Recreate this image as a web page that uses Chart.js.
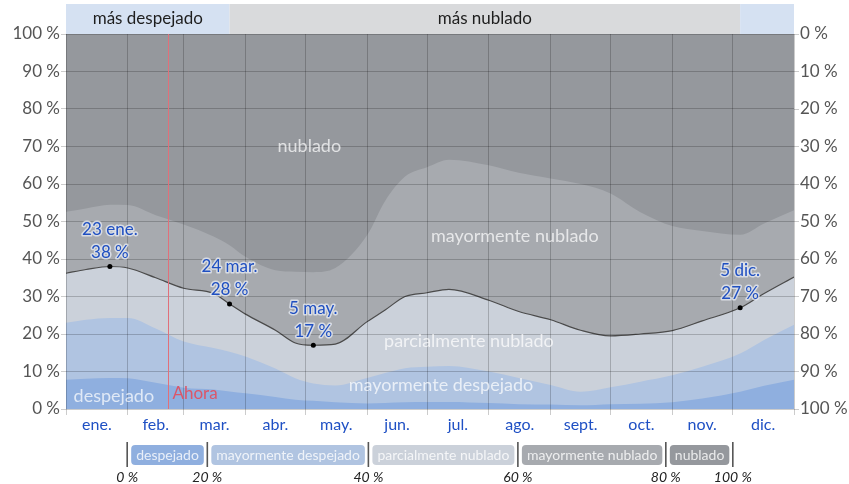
<!DOCTYPE html>
<html lang="es">
<head>
<meta charset="utf-8">
<title>Nubosidad</title>
<script src="https://cdn.jsdelivr.net/npm/chart.js@4.4.1/dist/chart.umd.min.js"></script>
<style>
  html, body { margin: 0; padding: 0; background: #fff; }
  #wrap { width: 849px; height: 484px; position: relative; }
</style>
</head>
<body>
<div id="wrap"><canvas id="cloudChart"></canvas></div>
<script>
// day of year (0 = 1 ene.) and the upper edge of each cloud-cover band, in %
const days = [0, 10, 22, 31, 45, 59, 74, 82, 90, 105, 115, 124, 135, 151, 160, 170, 181, 192, 212, 227, 243, 258, 273, 288, 304, 319, 338, 350, 365];
const clearTop = [7.8, 8.1, 8.3, 8.2, 7.0, 5.7, 5.2, 4.7, 4.2, 3.2, 2.5, 2.2, 1.8, 1.5, 1.6, 1.8, 1.9, 1.9, 1.6, 1.3, 1.2, 1.0, 1.3, 1.4, 1.8, 2.8, 4.6, 6.2, 7.8];
const mostlyClearTop = [23.0, 23.8, 24.3, 24.3, 21.5, 18.0, 16.3, 15.3, 14.0, 10.8, 8.2, 6.8, 6.3, 8.3, 9.6, 10.9, 11.3, 11.5, 10.0, 8.3, 6.4, 4.6, 5.8, 7.3, 9.0, 11.3, 14.8, 18.4, 22.5];
const partlyCloudyTop = [36.2, 37.2, 38, 37.6, 35.0, 32.2, 30.8, 28, 25.3, 21.0, 17.6, 17, 17.3, 23.3, 26.4, 30.0, 31.0, 31.9, 29.0, 26.0, 23.8, 21.0, 19.5, 20.0, 20.9, 23.5, 27, 30.8, 35.2];
const mostlyCloudyTop = [52.6, 53.5, 54.5, 54.4, 51.7, 49.2, 46.0, 43.7, 40.6, 37.0, 36.6, 36.5, 37.6, 46.4, 55.5, 62.0, 64.5, 66.5, 65.0, 63.0, 61.5, 60.0, 57.5, 52.5, 48.8, 47.5, 46.5, 49.5, 53.0];

const monthLabels = ['ene.', 'feb.', 'mar.', 'abr.', 'may.', 'jun.', 'jul.', 'ago.', 'sept.', 'oct.', 'nov.', 'dic.'];
const monthStarts = [0, 31, 59, 90, 120, 151, 181, 212, 243, 273, 304, 334, 365];

const highlightDays = [22, 82, 124, 338];
const highlightDates = ['23 ene.', '24 mar.', '5 may.', '5 dic.'];
const highlightValues = [38, 28, 17, 27];

const outlookStarts = [0, 82, 338];
const outlookEnds = [82, 338, 365];
const outlookLabels = ['más despejado', 'más nublado', ''];
const outlookKinds = ['clear', 'cloudy', 'clear'];

const nowDay = 51;

const legendLabels = ['despejado', 'mayormente despejado', 'parcialmente nublado', 'mayormente nublado', 'nublado'];
const legendTicks = ['0 %', '20 %', '40 %', '60 %', '80 %', '100 %'];

const colors = {
    clear: '#8fafdf',
    mostlyClear: '#b0c4e1',
    partly: '#cbd1da',
    mostlyCloudy: '#a7aaaf',
    cloudy: '#95989d'
};
const legendColors = [colors.clear, colors.mostlyClear, colors.partly, colors.mostlyCloudy, colors.cloudy];
const gridColor = 'rgba(0, 0, 0, 0.2)';
const FONT = 'Lato';

const monthMids = monthStarts.slice(0, -1).map((d, i) => (d + monthStarts[i + 1]) / 2);
const tickDays = [...monthStarts, ...monthMids].sort((a, b) => a - b);

const toPoints = arr => days.map((d, i) => ({ x: d, y: arr[i] }));

const band = (label, values, color, extra) => Object.assign({
    label: label,
    data: toPoints(values),
    fill: 'origin',
    backgroundColor: color,
    borderColor: 'transparent',
    borderWidth: 0,
    pointRadius: 0,
    cubicInterpolationMode: 'monotone'
}, extra || {});

const cloudBackdrop = {
    id: 'cloudBackdrop',
    beforeDatasetsDraw(chart) {
        const { ctx, chartArea: a, scales: { x } } = chart;
        ctx.save();
        ctx.fillStyle = colors.cloudy;
        ctx.fillRect(a.left, a.top, a.right - a.left, a.bottom - a.top);

        // strip above the plot: clearer vs cloudier part of the year
        outlookStarts.forEach((start, i) => {
            const x0 = x.getPixelForValue(start);
            const x1 = x.getPixelForValue(outlookEnds[i]);
            ctx.fillStyle = outlookKinds[i] === 'clear' ? '#d5e1f2' : '#d9dadc';
            ctx.fillRect(x0, 4, x1 - x0, a.top - 4);
            if (outlookLabels[i]) {
                ctx.fillStyle = '#1e1e1e';
                ctx.font = `17px ${FONT}`;
                ctx.textAlign = 'center';
                ctx.textBaseline = 'middle';
                ctx.fillText(outlookLabels[i], (x0 + x1) / 2, 19);
            }
        });
        ctx.restore();
    }
};

const cloudOverlay = {
    id: 'cloudOverlay',
    afterDraw(chart) {
        const { ctx, chartArea: a, scales: { x, y } } = chart;
        ctx.save();

        // band names
        const zoneText = [
            ['nublado', 122, 70],
            ['mayormente nublado', 225, 46],
            ['parcialmente nublado', 202, 18],
            ['mayormente despejado', 188, 6.4],
            ['despejado', 24, 3.5]
        ];
        ctx.font = `18px ${FONT}`;
        ctx.textAlign = 'center';
        ctx.textBaseline = 'middle';
        ctx.fillStyle = 'rgba(255, 255, 255, 0.72)';
        zoneText.forEach(([t, d, v]) => ctx.fillText(t, x.getPixelForValue(d), y.getPixelForValue(v)));

        // today marker
        const nx = Math.round(x.getPixelForValue(nowDay)) + 0.5;
        ctx.strokeStyle = '#e0707a';
        ctx.lineWidth = 1;
        ctx.beginPath();
        ctx.moveTo(nx, a.top);
        ctx.lineTo(nx, a.bottom);
        ctx.stroke();
        ctx.fillStyle = '#dc5669';
        ctx.font = `17px ${FONT}`;
        ctx.textAlign = 'left';
        ctx.fillText('Ahora', nx + 4, y.getPixelForValue(4.2));

        // extreme / notable values
        ctx.font = `17px ${FONT}`;
        ctx.textAlign = 'center';
        ctx.lineJoin = 'round';
        highlightDays.forEach((d, i) => {
            const px = x.getPixelForValue(d);
            const py = y.getPixelForValue(highlightValues[i]);
            [highlightDates[i], highlightValues[i] + ' %'].forEach((t, k) => {
                const ty = py - 37 + k * 23;
                ctx.strokeStyle = 'rgba(232, 236, 244, 0.75)';
                ctx.lineWidth = 3;
                ctx.strokeText(t, px, ty);
                ctx.fillStyle = '#1f4fc1';
                ctx.fillText(t, px, ty);
            });
        });

        // legend row under the month names
        ctx.font = `14px ${FONT}`;
        const widths = legendLabels.map(t => ctx.measureText(t).width + 10);
        const gapIn = 4, gapOut = 3.5;
        const total = widths.reduce((s, w) => s + w + gapIn + gapOut, 0);
        let sx = (a.left + a.right) / 2 - total / 2;
        const seps = [sx];
        widths.forEach((w, i) => {
            const bx = sx + gapIn;
            ctx.fillStyle = legendColors[i];
            ctx.beginPath();
            ctx.roundRect(bx, 445, w, 20, 4);
            ctx.fill();
            ctx.fillStyle = 'rgba(255, 255, 255, 0.8)';
            ctx.textAlign = 'center';
            ctx.fillText(legendLabels[i], bx + w / 2, 455);
            sx = bx + w + gapOut;
            seps.push(sx);
        });
        ctx.strokeStyle = '#555';
        ctx.lineWidth = 1.6;
        seps.forEach(s => {
            ctx.beginPath();
            ctx.moveTo(s, 442);
            ctx.lineTo(s, 467);
            ctx.stroke();
        });
        ctx.fillStyle = '#222';
        ctx.font = `italic 14px ${FONT}`;
        seps.forEach((s, i) => ctx.fillText(legendTicks[i], s, 477));

        ctx.restore();
    }
};

new Chart(document.getElementById('cloudChart'), {
    type: 'line',
    data: {
        datasets: [
            {
                label: 'destacados',
                data: highlightDays.map((d, i) => ({ x: d, y: highlightValues[i] })),
                showLine: false,
                pointRadius: 2.5,
                pointBackgroundColor: '#000',
                pointBorderWidth: 0,
                fill: false
            },
            band('despejado', clearTop, colors.clear),
            band('mayormente despejado', mostlyClearTop, colors.mostlyClear),
            band('parcialmente nublado', partlyCloudyTop, colors.partly, { borderColor: '#4b4b4b', borderWidth: 1.2 }),
            band('mayormente nublado', mostlyCloudyTop, colors.mostlyCloudy)
        ]
    },
    options: {
        responsive: true,
        maintainAspectRatio: false,
        animation: false,
        layout: { padding: { top: 34, bottom: 0, left: 0, right: 0 } },
        scales: {
            x: {
                type: 'linear',
                min: 0,
                max: 365,
                afterBuildTicks(scale) { scale.ticks = tickDays.map(v => ({ value: v })); },
                afterFit(scale) { scale.height = 75; },
                grid: {
                    z: 1,
                    color: c => (c.tick && monthStarts.includes(c.tick.value)) ? gridColor : 'transparent',
                    tickLength: 6
                },
                border: { display: false },
                ticks: {
                    autoSkip: false,
                    maxRotation: 0,
                    padding: 0,
                    color: '#1f50c4',
                    font: { family: FONT, size: 16 },
                    callback: v => {
                        const i = monthMids.indexOf(v);
                        return i >= 0 ? monthLabels[i] : '';
                    }
                }
            },
            y: {
                position: 'left',
                min: 0,
                max: 100,
                afterFit(scale) { scale.width = 66; },
                grid: { z: 1, color: gridColor, tickLength: 5 },
                border: { display: false },
                ticks: { stepSize: 10, padding: 1, color: '#555', font: { family: FONT, size: 17 }, callback: v => v + ' %' }
            },
            y2: {
                position: 'right',
                reverse: true,
                min: 0,
                max: 100,
                afterFit(scale) { scale.width = 55; },
                grid: { z: 1, drawOnChartArea: false, color: gridColor, tickLength: 5 },
                border: { display: false },
                ticks: { stepSize: 10, padding: 1, color: '#555', font: { family: FONT, size: 17 }, callback: v => v + ' %' }
            }
        },
        plugins: {
            legend: { display: false },
            tooltip: { enabled: false }
        }
    },
    plugins: [cloudBackdrop, cloudOverlay]
});
</script>
</body>
</html>
